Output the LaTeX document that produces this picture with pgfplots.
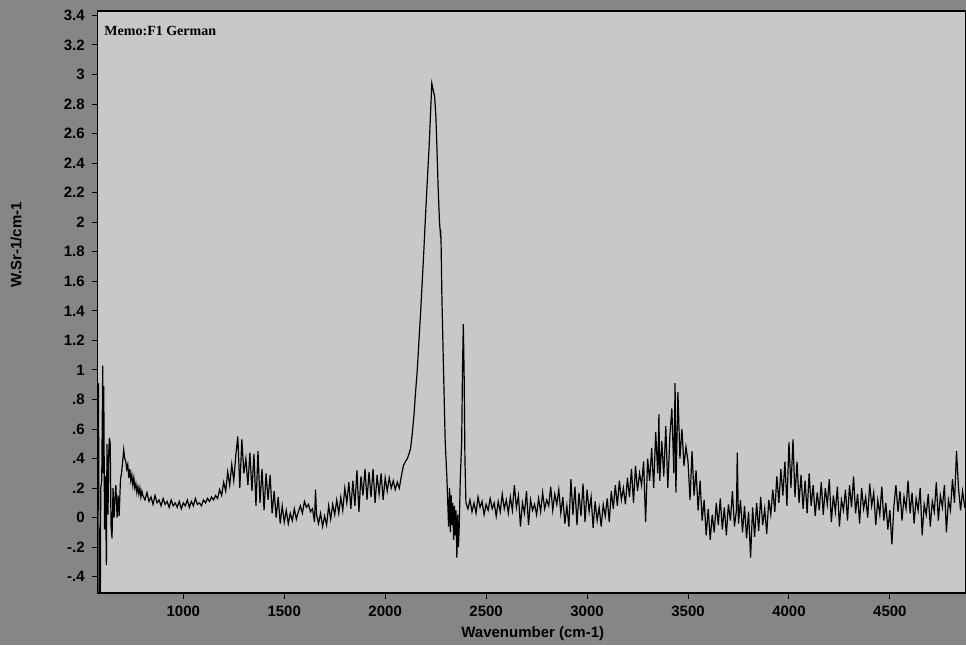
\documentclass[border=0pt]{standalone}
\usepackage{pgfplots}
\pgfplotsset{compat=1.18}
\usepackage{fontspec}
\setmainfont{Liberation Sans}
\newfontfamily\titlefont{Liberation Serif}
\definecolor{outergray}{RGB}{134,134,134}
\definecolor{plotgray}{RGB}{200,200,200}
\begin{document}
\begin{tikzpicture}
\fill[outergray] (0,0) rectangle (483pt,322.5pt);
\useasboundingbox (0,0) rectangle (483pt,322.5pt);
\begin{axis}[
  at={(48.85pt,26pt)}, anchor=south west,
  width=434.15pt, height=291pt, scale only axis,
  xmin=576, xmax=4877, ymin=-0.51, ymax=3.43,
  axis background/.style={fill=plotgray},
  axis line style={black, line width=0.7pt},
  tick align=outside, xtick pos=bottom, ytick pos=left,
  major tick length=3pt,
  tick style={black, line width=0.5pt},
  xtick={1000,1500,2000,2500,3000,3500,4000,4500},
  xticklabels={1000,1500,2000,2500,3000,3500,4000,4500},
  ytick={-0.4,-0.2,0,0.2,0.4,0.6,0.8,1,1.2,1.4,1.6,1.8,2,2.2,2.4,2.6,2.8,3,3.2,3.4},
  yticklabels={-.4,-.2,0,.2,.4,.6,.8,1,1.2,1.4,1.6,1.8,2,2.2,2.4,2.6,2.8,3,3.2,3.4},
  ticklabel style={font=\fontsize{7.5}{8}\selectfont\bfseries},
  xlabel={Wavenumber (cm-1)},
  ylabel={W.Sr-1/cm-1},
  label style={font=\fontsize{7.5}{8}\selectfont\bfseries},
  xlabel style={at={(axis description cs:0.501,-0.0705)}, anchor=center},
  ylabel style={at={(axis description cs:-0.094,0.598)}, anchor=center},
]
\addplot[black, line width=0.6pt, mark=none] table[row sep=\\] {
x y\\
580 0.91\\ 583 -0.6\\ 589 -0.6\\ 591 0.20\\ 596 0.25\\ 601 1.03\\ 604 0.30\\ 606 0.89\\ 610 -0.08\\ 614 0.28\\
619 -0.32\\ 622 0.50\\ 627 0.02\\ 631 0.45\\ 634 0.54\\ 638 0.50\\ 642 -0.05\\ 647 -0.14\\ 652 0.20\\ 657 0.00\\
661 0.12\\ 666 0.22\\ 672 0.00\\ 677 0.15\\ 682 0.01\\ 689 0.26\\ 694 0.30\\ 699 0.37\\ 705 0.46\\ 710 0.40\\
715 0.38\\ 720 0.33\\ 725 0.36\\ 730 0.27\\ 735 0.33\\ 740 0.25\\ 745 0.29\\ 750 0.22\\ 755 0.27\\ 760 0.20\\
765 0.23\\ 770 0.17\\ 775 0.21\\ 780 0.16\\ 785 0.20\\ 790 0.14\\ 795 0.18\\
800 0.15\\ 810 0.12\\ 820 0.17\\ 830 0.11\\ 840 0.14\\ 850 0.09\\ 860 0.15\\ 870 0.10\\ 880 0.12\\ 890 0.08\\
900 0.13\\ 910 0.09\\ 920 0.11\\ 930 0.07\\ 940 0.12\\ 950 0.08\\ 960 0.10\\ 970 0.07\\ 980 0.11\\ 990 0.06\\
1000 0.10\\ 1010 0.08\\ 1020 0.12\\ 1030 0.07\\ 1040 0.11\\ 1050 0.08\\ 1060 0.13\\ 1070 0.09\\ 1080 0.10\\ 1090 0.08\\
1100 0.12\\ 1110 0.10\\ 1120 0.13\\ 1130 0.11\\ 1140 0.14\\ 1150 0.12\\ 1160 0.15\\ 1170 0.13\\ 1180 0.19\\ 1190 0.15\\
1200 0.24\\ 1210 0.18\\ 1220 0.31\\ 1230 0.22\\ 1240 0.36\\ 1250 0.25\\ 1260 0.42\\ 1270 0.55\\ 1280 0.20\\ 1290 0.53\\
1300 0.30\\ 1310 0.40\\ 1320 0.22\\ 1330 0.44\\ 1340 0.18\\ 1350 0.43\\ 1360 0.08\\ 1370 0.45\\ 1380 0.10\\ 1390 0.33\\
1400 0.05\\ 1410 0.30\\ 1420 0.12\\ 1430 0.29\\ 1440 0.03\\ 1450 0.18\\ 1460 0.00\\ 1470 0.14\\ 1480 -0.04\\ 1490 0.08\\
1500 -0.03\\ 1510 0.05\\ 1520 -0.04\\ 1530 0.03\\ 1540 -0.02\\ 1550 0.06\\ 1560 -0.01\\ 1570 0.04\\ 1580 0.08\\ 1590 0.03\\
1600 0.11\\ 1610 0.07\\ 1620 0.09\\ 1630 0.04\\ 1640 0.06\\ 1650 -0.03\\ 1655 0.19\\ 1660 0.02\\ 1670 -0.04\\ 1680 0.03\\
1690 -0.06\\ 1700 0.01\\ 1710 -0.05\\ 1720 0.08\\ 1730 -0.01\\ 1740 0.09\\ 1750 0.02\\ 1760 0.12\\ 1770 0.03\\ 1780 0.14\\
1790 0.05\\ 1800 0.20\\ 1810 0.10\\ 1820 0.24\\ 1830 0.06\\ 1840 0.25\\ 1850 0.08\\ 1860 0.32\\ 1870 0.04\\ 1880 0.28\\
1890 0.15\\ 1900 0.33\\ 1910 0.12\\ 1920 0.31\\ 1930 0.14\\ 1940 0.33\\ 1950 0.10\\ 1960 0.29\\ 1970 0.16\\ 1980 0.30\\
1990 0.12\\ 2000 0.27\\ 2010 0.18\\ 2020 0.27\\ 2030 0.20\\ 2040 0.25\\ 2050 0.19\\ 2060 0.24\\ 2070 0.20\\ 2080 0.28\\
2090 0.35\\ 2100 0.38\\ 2110 0.40\\ 2120 0.44\\ 2126 0.47\\ 2135 0.58\\ 2143 0.70\\ 2150 0.84\\ 2159 1.00\\ 2167 1.19\\
2176 1.40\\ 2184 1.61\\ 2192 1.82\\ 2200 2.05\\ 2209 2.29\\ 2218 2.52\\ 2226 2.78\\ 2231 2.94\\ 2237 2.90\\ 2245 2.85\\
2251 2.72\\ 2256 2.52\\ 2262 2.25\\ 2269 2.00\\ 2273 1.93\\ 2275 1.95\\ 2277 1.85\\ 2281 1.49\\ 2289 1.00\\ 2297 0.53\\
2306 0.26\\ 2310 0.10\\ 2314 -0.06\\ 2319 0.20\\ 2323 -0.10\\ 2327 0.15\\ 2331 -0.05\\ 2335 0.10\\ 2339 -0.15\\ 2343 0.08\\
2347 -0.12\\ 2351 0.05\\ 2355 -0.27\\ 2359 0.02\\ 2363 -0.20\\ 2367 -0.05\\ 2372 0.26\\ 2379 0.52\\ 2383 1.00\\ 2387 1.31\\
2391 0.98\\ 2395 0.40\\ 2400 0.10\\
2410 0.06\\ 2420 0.12\\ 2430 0.04\\ 2440 0.10\\ 2450 0.03\\ 2460 0.14\\ 2470 0.07\\ 2480 0.11\\ 2490 0.02\\ 2500 0.09\\
2510 0.05\\ 2520 0.13\\ 2530 0.06\\ 2540 0.10\\ 2550 0.01\\ 2560 0.11\\ 2570 0.04\\ 2580 0.16\\ 2590 0.06\\ 2600 0.12\\
2610 0.03\\ 2620 0.14\\ 2630 0.05\\ 2640 0.22\\ 2650 0.07\\ 2660 0.15\\ 2670 -0.06\\ 2680 0.10\\ 2690 0.03\\ 2700 0.18\\
2710 -0.05\\ 2720 0.12\\ 2730 0.05\\ 2740 0.09\\ 2750 0.02\\ 2760 0.13\\ 2770 0.04\\ 2780 0.17\\ 2790 0.06\\ 2800 0.12\\
2810 0.08\\ 2820 0.21\\ 2830 0.05\\ 2840 0.16\\ 2850 0.09\\ 2860 0.19\\ 2870 0.03\\ 2880 0.14\\ 2890 -0.04\\ 2900 0.08\\
2910 -0.06\\ 2920 0.26\\ 2930 0.02\\ 2940 0.21\\ 2950 -0.05\\ 2960 0.17\\ 2970 0.01\\ 2980 0.23\\ 2990 -0.03\\ 3000 0.19\\
3010 0.04\\ 3020 0.14\\ 3030 -0.07\\ 3040 0.11\\ 3050 -0.02\\ 3060 0.07\\ 3070 -0.06\\ 3080 0.09\\ 3090 0.01\\ 3100 0.13\\
3110 -0.03\\ 3120 0.18\\ 3130 0.06\\ 3140 0.22\\ 3150 0.08\\ 3160 0.25\\ 3170 0.12\\ 3180 0.20\\ 3190 0.09\\ 3200 0.27\\
3210 0.14\\ 3220 0.33\\ 3230 0.10\\ 3240 0.35\\ 3250 0.18\\ 3260 0.30\\ 3270 0.22\\ 3280 0.38\\ 3290 -0.03\\ 3300 0.40\\
3310 0.25\\ 3320 0.47\\ 3330 0.20\\ 3340 0.58\\ 3350 0.30\\ 3356 0.70\\ 3360 0.25\\ 3370 0.52\\ 3380 0.28\\ 3390 0.62\\
3400 0.20\\ 3410 0.55\\ 3420 0.74\\ 3430 0.30\\ 3436 0.91\\ 3440 0.17\\ 3450 0.85\\ 3460 0.40\\ 3470 0.60\\ 3480 0.35\\
3490 0.48\\ 3500 0.38\\ 3510 0.12\\ 3520 0.45\\ 3530 0.15\\ 3540 0.32\\ 3550 0.05\\ 3560 0.25\\ 3570 -0.02\\ 3580 0.12\\
3590 -0.12\\ 3600 0.06\\ 3610 -0.15\\ 3620 0.02\\ 3630 -0.10\\ 3640 0.10\\ 3650 -0.05\\ 3660 0.13\\ 3670 -0.08\\ 3680 0.07\\
3690 -0.12\\ 3700 0.09\\ 3710 -0.02\\ 3720 0.18\\ 3730 -0.06\\ 3740 0.05\\ 3744 0.44\\ 3750 -0.04\\ 3760 0.12\\ 3770 -0.10\\
3780 0.08\\ 3790 -0.14\\ 3800 0.04\\ 3810 -0.27\\ 3820 0.07\\ 3830 -0.13\\ 3840 0.10\\ 3850 -0.09\\ 3860 0.14\\ 3870 -0.05\\
3880 0.06\\ 3890 -0.11\\ 3900 0.12\\ 3910 0.02\\ 3920 0.19\\ 3930 0.04\\ 3940 0.28\\ 3950 0.10\\ 3960 0.33\\ 3970 0.15\\
3980 0.38\\ 3990 0.08\\ 4000 0.51\\ 4010 0.20\\ 4020 0.53\\ 4030 0.14\\ 4040 0.38\\ 4050 0.10\\ 4060 0.29\\ 4070 0.06\\
4080 0.25\\ 4090 0.03\\ 4100 0.30\\ 4110 0.08\\ 4120 0.22\\ 4130 0.01\\ 4140 0.17\\ 4150 0.05\\ 4160 0.24\\ 4170 0.02\\
4180 0.20\\ 4190 0.09\\ 4200 0.26\\ 4210 -0.03\\ 4220 0.15\\ 4230 0.04\\ 4240 0.21\\ 4250 -0.06\\ 4260 0.12\\ 4270 0.05\\
4280 0.19\\ 4290 -0.02\\ 4300 0.22\\ 4310 0.07\\ 4320 0.28\\ 4330 0.03\\ 4340 0.16\\ 4350 -0.04\\ 4360 0.20\\ 4370 0.06\\
4380 0.14\\ 4390 0.00\\ 4400 0.23\\ 4410 0.08\\ 4420 0.17\\ 4430 -0.05\\ 4440 0.12\\ 4450 0.02\\ 4460 0.21\\ 4470 -0.02\\
4480 0.10\\ 4490 -0.08\\ 4500 0.05\\ 4510 -0.18\\ 4520 0.08\\ 4530 0.22\\ 4540 0.04\\ 4550 0.18\\ 4560 -0.02\\ 4570 0.14\\
4580 0.06\\ 4590 0.25\\ 4600 0.03\\ 4610 0.17\\ 4620 -0.04\\ 4630 0.13\\ 4640 0.05\\ 4650 0.20\\ 4660 -0.12\\ 4670 0.09\\
4680 0.02\\ 4690 0.16\\ 4700 -0.06\\ 4710 0.11\\ 4720 0.04\\ 4730 0.24\\ 4740 -0.02\\ 4750 0.15\\ 4760 0.07\\ 4770 0.22\\
4780 -0.10\\ 4790 0.12\\ 4800 0.05\\ 4810 0.26\\ 4820 0.10\\ 4830 0.45\\ 4840 0.20\\ 4850 0.05\\ 4860 0.18\\ 4870 0.08\\
4880 0.12\\
};
\node[anchor=base west, inner sep=0pt, xshift=3.2pt, yshift=-12pt, font=\titlefont\bfseries\fontsize{7}{8}\selectfont] at (rel axis cs:0,1) {Memo:F1 German};
\end{axis}
\end{tikzpicture}
\end{document}
